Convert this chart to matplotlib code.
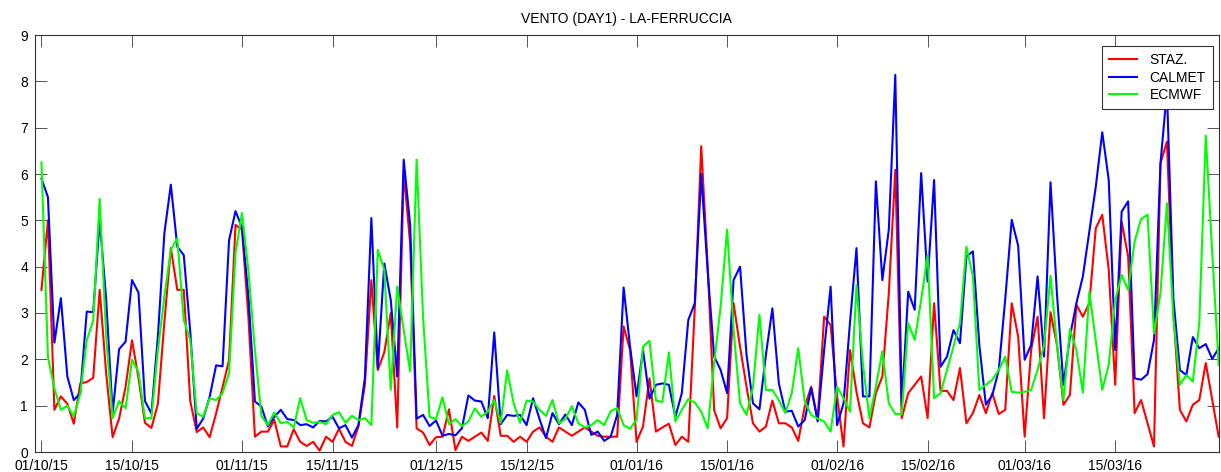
import matplotlib
matplotlib.use("Agg")
import matplotlib.pyplot as plt
import matplotlib.dates as mdates
import pandas as pd

plt.rcParams['font.family'] = ['Liberation Sans', 'DejaVu Sans']

# Daily wind speed, 01/10/2015 - 31/03/2016
dates = pd.date_range("2015-10-01", "2016-03-31", freq="D")

staz = [
    3.5, 5.0, 0.91, 1.2, 1.04, 0.61, 1.48, 1.51, 1.6, 3.5,
    1.7, 0.32, 0.72, 1.4, 2.41, 1.6, 0.63, 0.52, 1.04, 2.8,
    4.4, 3.5, 3.5, 1.1, 0.43, 0.53, 0.32, 0.83, 1.4, 1.98,
    4.9, 4.8, 2.9, 0.33, 0.44, 0.44, 0.69, 0.12, 0.12, 0.49,
    0.22, 0.13, 0.22, 0.03, 0.33, 0.22, 0.5, 0.22, 0.13, 0.55,
    1.45, 3.71, 1.77, 2.15, 3.0, 0.53, 6.05, 4.5, 0.51, 0.42,
    0.15, 0.32, 0.33, 0.92, 0.04, 0.33, 0.24, 0.33, 0.42, 0.24,
    1.21, 0.35, 0.35, 0.22, 0.33, 0.22, 0.44, 0.53, 0.33, 0.22,
    0.53, 0.44, 0.35, 0.44, 0.53, 0.44, 0.35, 0.33, 0.33, 0.33,
    2.71, 2.2, 0.22, 0.55, 1.59, 0.44, 0.53, 0.61, 0.15, 0.33,
    0.22, 3.1, 6.6, 4.0, 0.9, 0.51, 0.73, 3.21, 2.27, 1.41,
    0.62, 0.44, 0.55, 1.11, 0.62, 0.62, 0.53, 0.24, 0.98, 1.41,
    0.7, 2.92, 2.74, 1.2, 0.12, 2.2, 1.3, 0.62, 0.53, 1.27,
    1.63, 3.43, 6.09, 0.73, 1.27, 1.45, 1.63, 0.73, 3.21, 1.32,
    1.32, 1.12, 1.81, 0.62, 0.84, 1.23, 0.84, 1.27, 0.82, 0.91,
    3.21, 2.49, 0.33, 2.2, 2.92, 0.73, 3.02, 2.31, 1.02, 1.23,
    3.18, 2.92, 3.21, 4.83, 5.12, 3.93, 1.45, 4.97, 4.22, 0.84,
    1.12, 0.62, 0.12, 6.23, 6.7, 3.0, 0.91, 0.66, 1.02, 1.12,
    1.92, 1.12, 0.33,
]

calmet = [
    5.9, 5.5, 2.36, 3.32, 1.63, 1.12, 1.27, 3.03, 3.02, 5.0,
    3.3, 0.84, 2.22, 2.38, 3.71, 3.44, 1.1, 0.83, 2.5, 4.72,
    5.77, 4.43, 4.25, 2.6, 0.5, 0.72, 1.19, 1.87, 1.85, 4.57,
    5.2, 4.85, 3.35, 1.09, 0.98, 0.55, 0.76, 0.91, 0.71, 0.69,
    0.58, 0.6, 0.53, 0.67, 0.66, 0.76, 0.51, 0.58, 0.31, 0.58,
    1.6, 5.05, 1.81, 4.07, 3.28, 1.63, 6.31, 4.9, 0.72, 0.8,
    0.56, 0.68, 0.35, 0.39, 0.36, 0.51, 1.22, 1.11, 1.09, 0.73,
    2.58, 0.6, 0.8, 0.78, 0.8, 0.58, 1.16, 0.71, 0.3, 0.84,
    0.6, 0.81, 0.58, 1.07, 0.91, 0.37, 0.44, 0.24, 0.33, 0.8,
    3.55, 2.27, 1.2, 2.2, 1.15, 1.45, 1.48, 1.45, 0.76, 1.27,
    2.85, 3.21, 6.0, 3.9, 2.06, 1.77, 1.27, 3.71, 4.0, 2.1,
    1.05, 0.92, 2.1, 3.1, 1.48, 0.87, 0.89, 0.55, 0.69, 1.38,
    0.66, 2.2, 3.57, 0.58, 1.05, 2.8, 4.4, 1.2, 1.2, 5.84,
    3.71, 4.8, 8.14, 1.0, 3.46, 3.07, 6.02, 3.68, 5.87, 1.84,
    2.06, 2.63, 2.35, 4.22, 4.33, 2.3, 1.02, 1.23, 1.77, 3.3,
    5.01, 4.45, 1.99, 2.31, 3.79, 2.06, 5.82, 3.4, 1.45, 2.49,
    3.21, 3.79, 4.76, 5.73, 6.9, 5.87, 2.2, 5.19, 5.41, 1.59,
    1.56, 1.68, 2.42, 6.23, 7.8, 3.3, 1.77, 1.66, 2.48, 2.24,
    2.33, 2.01, 2.24,
]

ecmwf = [
    6.25, 2.05, 1.37, 0.91, 1.0, 0.77, 1.26, 2.41, 2.84, 5.46,
    2.5, 0.73, 1.1, 0.94, 1.99, 1.73, 0.73, 0.73, 2.2, 3.35,
    4.36, 4.61, 2.85, 2.42, 0.84, 0.76, 1.16, 1.12, 1.27, 1.7,
    4.3, 5.16, 3.9, 2.2, 0.78, 0.58, 0.85, 0.62, 0.65, 0.53,
    1.16, 0.69, 0.63, 0.65, 0.6, 0.8, 0.86, 0.63, 0.78, 0.69,
    0.73, 0.58, 4.36, 3.93, 1.34, 3.57, 2.63, 1.74, 6.31, 2.9,
    0.76, 0.71, 1.18, 0.6, 0.71, 0.56, 0.66, 0.94, 0.76, 0.87,
    1.12, 0.63, 1.76, 1.05, 0.63, 1.11, 1.09, 0.91, 0.78, 1.12,
    0.62, 0.71, 0.99, 0.62, 0.53, 0.58, 0.69, 0.58, 0.88, 0.95,
    0.58, 0.5, 0.7, 2.28, 2.4, 1.11, 1.08, 2.15, 0.66, 0.91,
    1.14, 1.07, 0.87, 0.51, 1.92, 3.14, 4.8, 2.64, 1.05, 0.8,
    1.4, 2.96, 1.34, 1.34, 1.12, 0.84, 1.27, 2.24, 1.09, 0.8,
    0.72, 0.66, 0.44, 1.41, 1.16, 0.87, 3.6, 1.9, 0.73, 1.41,
    2.17, 1.05, 0.82, 0.82, 2.78, 2.42, 3.28, 4.25, 1.16, 1.27,
    1.77, 2.28, 2.78, 4.43, 3.79, 1.34, 1.45, 1.56, 1.77, 2.06,
    1.3, 1.28, 1.3, 1.34, 1.77, 2.3, 3.8, 2.3, 1.12, 2.65,
    2.2, 1.28, 3.46, 2.4, 1.34, 1.88, 3.28, 3.82, 3.5, 4.54,
    5.03, 5.12, 2.56, 3.43, 5.37, 2.9, 1.45, 1.66, 1.52, 2.78,
    6.83, 4.3, 1.88,
]

series_names = ["STAZ.", "CALMET", "ECMWF"]
series_colors = ["#ff0000", "#0000ff", "#00ff00"]
title = "VENTO (DAY1) - LA-FERRUCCIA"

fig = plt.figure(figsize=(12.21, 4.72), dpi=100)
ax = fig.add_axes([35 / 1221, 20 / 472, 1183.7 / 1221, 417 / 472])

for vals, name, col in zip([staz, calmet, ecmwf], series_names, series_colors):
    ax.plot(dates, vals, color=col, lw=1.5, label=name)

ax.set_xlim(pd.Timestamp("2015-09-30"), pd.Timestamp("2016-03-31"))
ax.set_ylim(0, 9)
ax.set_yticks(range(0, 10))

ax.xaxis.set_major_locator(mdates.DayLocator(bymonthday=[1, 15]))
ax.xaxis.set_major_formatter(mdates.DateFormatter("%d/%m/%y"))

ax.tick_params(direction="in", length=8.5, width=0.7, color="#555555",
               top=True, right=True, labelsize=10, labelcolor="black")
ax.tick_params(axis="x", pad=5)
ax.tick_params(axis="y", pad=5)
for sp in ax.spines.values():
    sp.set_linewidth(0.8)
    sp.set_color("#333333")

ax.set_title(title, fontsize=10, pad=9)

leg = ax.legend(loc="upper right", bbox_to_anchor=(0.9985, 0.983),
                fontsize=10, frameon=True, fancybox=False, framealpha=1,
                edgecolor="#333333", handlelength=2.0, handletextpad=0.9,
                borderpad=0.5, labelspacing=0.25, borderaxespad=0.3)
leg.get_frame().set_linewidth(0.8)

fig.savefig("out.png", dpi=100)
